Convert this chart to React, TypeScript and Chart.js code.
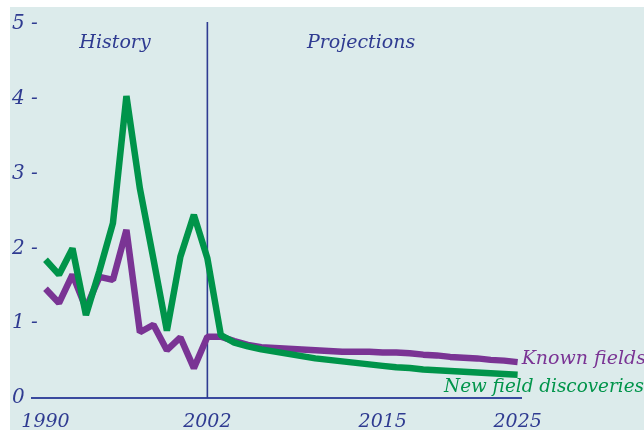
import React, { useEffect, useRef } from "react";
import { Chart, registerables } from "chart.js";

Chart.register(...registerables);

const years = [
  1990, 1991, 1992, 1993, 1994, 1995, 1996, 1997, 1998, 1999, 2000, 2001, 2002,
  2003, 2004, 2005, 2006, 2007, 2008, 2009, 2010, 2011, 2012, 2013, 2014, 2015,
  2016, 2017, 2018, 2019, 2020, 2021, 2022, 2023, 2024, 2025,
];
const knownFields = [
  1.46, 1.27, 1.65, 1.2, 1.62, 1.58, 2.25, 0.88, 0.98, 0.64, 0.81, 0.4, 0.82,
  0.82, 0.76, 0.71, 0.68, 0.67, 0.66, 0.65, 0.64, 0.63, 0.62, 0.62, 0.62, 0.61,
  0.61, 0.6, 0.58, 0.57, 0.55, 0.54, 0.53, 0.51, 0.5, 0.48,
];
const newFieldDiscoveries = [
  1.85, 1.65, 2.0, 1.11, 1.7, 2.34, 4.04, 2.8, 1.86, 0.9, 1.89, 2.45, 1.87,
  0.84, 0.74, 0.69, 0.65, 0.62, 0.59, 0.56, 0.53, 0.51, 0.49, 0.47, 0.45, 0.43,
  0.41, 0.4, 0.38, 0.37, 0.36, 0.35, 0.34, 0.33, 0.32, 0.31,
];
const xTicks = [1990, 2002, 2015, 2025];
const yTicks = [0, 1, 2, 3, 4, 5];
const dividerYear = 2002;
const periodLabels = ["History", "Projections"];
const seriesLabels = ["Known fields", "New field discoveries"];

const BLUE = "#2f3b91";
const PURPLE = "#7a3494";
const GREEN = "#00944a";
const BG = "#dcebeb";
const FONT = "'DejaVu Serif', serif";

export default function App() {
  const ref = useRef<HTMLCanvasElement | null>(null);

  useEffect(() => {
    document.body.style.margin = "0";
    const canvas = ref.current;
    if (!canvas) return;

    const bgPlugin = {
      id: "bgPlugin",
      beforeDraw(chart: any) {
        const { ctx, width, height } = chart;
        ctx.save();
        ctx.fillStyle = "#ffffff";
        ctx.fillRect(0, 0, width, height);
        ctx.fillStyle = BG;
        ctx.fillRect(10, 7, width - 10, height - 7);
        ctx.restore();
      },
      afterDatasetsDraw(chart: any) {
        const { ctx } = chart;
        const xs = chart.scales.x;
        const ys = chart.scales.y;
        ctx.save();
        ctx.font = `italic 19px ${FONT}`;
        ctx.textBaseline = "middle";
        ctx.fillStyle = BLUE;
        ctx.textAlign = "center";
        ctx.fillText(periodLabels[0], 115, 43);
        ctx.textAlign = "left";
        ctx.fillText(periodLabels[1], 307, 43);

        const last = years.length - 1;
        const xEnd = xs.getPixelForValue(years[last]);
        ctx.fillStyle = PURPLE;
        ctx.textAlign = "left";
        ctx.fillText(seriesLabels[0], xEnd + 4, ys.getPixelForValue(knownFields[last]) - 3);
        ctx.font = `italic 18.4px ${FONT}`;
        ctx.fillStyle = GREEN;
        ctx.textAlign = "right";
        ctx.fillText(seriesLabels[1], chart.width, ys.getPixelForValue(newFieldDiscoveries[last]) + 12);
        ctx.restore();
      },
    };

    const chart = new Chart(canvas, {
      type: "line",
      data: {
        datasets: [
          {
            label: "divider",
            data: [
              { x: dividerYear, y: 0 },
              { x: dividerYear, y: 5.03 },
            ],
            borderColor: BLUE,
            borderWidth: 1.6,
            pointRadius: 0,
            order: 3,
          },
          {
            label: seriesLabels[0],
            data: years.map((y, i) => ({ x: y, y: knownFields[i] })),
            borderColor: PURPLE,
            borderWidth: 6.5,
            borderJoinStyle: "bevel",
            pointRadius: 0,
            tension: 0,
            order: 2,
          },
          {
            label: seriesLabels[1],
            data: years.map((y, i) => ({ x: y, y: newFieldDiscoveries[i] })),
            borderColor: GREEN,
            borderWidth: 6.5,
            borderJoinStyle: "bevel",
            pointRadius: 0,
            tension: 0,
            order: 1,
          },
        ],
      },
      options: {
        animation: false,
        responsive: false,
        maintainAspectRatio: false,
        layout: { padding: { left: 0, right: 123, top: 22, bottom: 0 } },
        plugins: { legend: { display: false }, tooltip: { enabled: false } },
        scales: {
          x: {
            type: "linear",
            min: 1989,
            max: 2025.25,
            afterBuildTicks: (s: any) => {
              s.ticks = xTicks.map((v) => ({ value: v }));
            },
            afterFit: (s: any) => {
              s.height = 32;
            },
            grid: { display: false, drawTicks: false },
            border: { display: true, color: "#3a4a9e", width: 2 },
            ticks: {
              color: BLUE,
              font: { family: FONT, style: "italic", size: 19 },
              padding: 13,
              maxRotation: 0,
              callback: (v: any) => String(v),
            },
          },
          y: {
            type: "linear",
            min: 0,
            max: 5.03,
            afterBuildTicks: (s: any) => {
              s.ticks = yTicks.map((v) => ({ value: v }));
            },
            afterFit: (s: any) => {
              s.width = 32;
            },
            grid: { display: false, drawTicks: false },
            border: { display: false },
            ticks: {
              color: BLUE,
              font: { family: FONT, style: "italic", size: 20 },
              mirror: true,
              padding: -20,
              callback: (v: any) => (v === 0 ? "0" : `${v} -`),
            },
          },
        },
      },
      plugins: [bgPlugin],
    });
    return () => chart.destroy();
  }, []);

  return (
    <div style={{ position: "fixed", left: 0, top: 0, width: 644, height: 430 }}>
      <canvas ref={ref} width={644} height={430} style={{ width: 644, height: 430 }} />
    </div>
  );
}
